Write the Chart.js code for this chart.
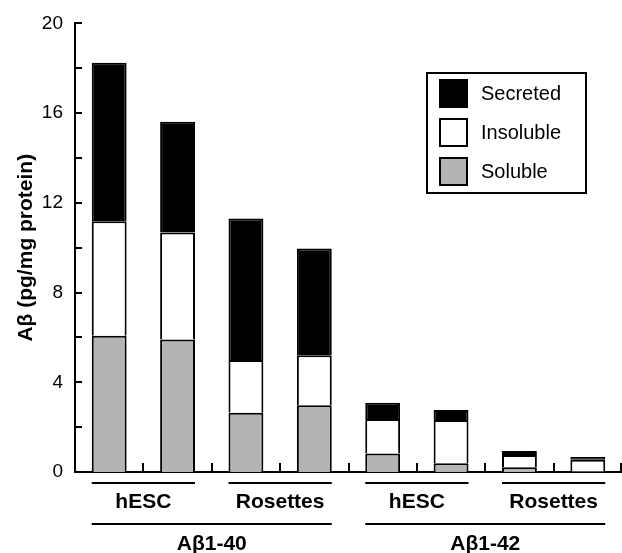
<!DOCTYPE html>
<html>
<head>
<meta charset="utf-8">
<script src="https://cdn.jsdelivr.net/npm/chart.js@4.4.1/dist/chart.umd.min.js"></script>
<style>
  html, body { margin: 0; padding: 0; background: #fff; }
  #wrap { width: 622px; height: 553px; position: relative; }
</style>
</head>
<body>
<div id="wrap"><canvas id="chart"></canvas></div>
<script>
  // data
  var categories = ['hESC a', 'hESC b', 'Rosettes a', 'Rosettes b', 'hESC a', 'hESC b', 'Rosettes a', 'Rosettes b'];
  var subGroups = ['hESC', 'Rosettes', 'hESC', 'Rosettes'];
  var groups = ['A\u03b21-40', 'A\u03b21-42'];
  var soluble = [6.07, 5.91, 2.64, 2.98, 0.83, 0.39, 0.21, 0.05];
  var insoluble = [5.11, 4.77, 2.35, 2.23, 1.53, 1.93, 0.55, 0.5];
  var secreted = [7.07, 4.94, 6.31, 4.75, 0.73, 0.44, 0.18, 0.12];
  var yTicks = [0, 4, 8, 12, 16, 20];

  var FONT = "'Liberation Sans', Arial, sans-serif";

  // 축 눈금, 그룹 라벨, 범례
  var decor = {
    id: 'decor',
    afterDraw: function (chart) {
      var ctx = chart.ctx;
      var area = chart.chartArea;
      var x = chart.scales.x;
      var y = chart.scales.y;
      ctx.save();
      ctx.strokeStyle = '#000';
      ctx.fillStyle = '#000';
      ctx.lineWidth = 2;

      // y ticks (inward)
      for (var v = 0; v <= 20; v += 2) {
        var py = Math.round(y.getPixelForValue(v));
        ctx.beginPath();
        ctx.moveTo(area.left, py);
        ctx.lineTo(area.left + 7, py);
        ctx.stroke();
      }
      // x ticks at category boundaries
      for (var i = 1; i <= categories.length; i++) {
        var px = Math.round(x.getPixelForValue(i - 0.5));
        if (i === categories.length) px = Math.min(px, chart.width - 1);
        ctx.beginPath();
        ctx.moveTo(px, area.bottom);
        ctx.lineTo(px, area.bottom - 9);
        ctx.stroke();
      }

      var bars = chart.getDatasetMeta(0).data;
      function leftOf(k) { return bars[k].x - bars[k].width / 2; }
      function rightOf(k) { return bars[k].x + bars[k].width / 2; }

      ctx.textAlign = 'center';
      ctx.textBaseline = 'middle';
      ctx.font = 'bold 21px ' + FONT;
      subGroups.forEach(function (name, g) {
        var l = leftOf(g * 2), r = rightOf(g * 2 + 1);
        ctx.beginPath();
        ctx.moveTo(l, 483);
        ctx.lineTo(r, 483);
        ctx.stroke();
        ctx.fillText(name, (l + r) / 2, 502);
      });
      groups.forEach(function (name, g) {
        var l = leftOf(g * 4), r = rightOf(g * 4 + 3);
        ctx.beginPath();
        ctx.moveTo(l, 524);
        ctx.lineTo(r, 524);
        ctx.stroke();
        ctx.fillText(name, (l + r) / 2, 544);
      });

      // legend box
      ctx.strokeRect(427, 73, 159, 120);
      ctx.font = '20px ' + FONT;
      ctx.textAlign = 'left';
      var order = chart.data.datasets.slice().reverse();
      order.forEach(function (ds, k) {
        var cy = 93 + k * 39;
        ctx.fillStyle = ds.backgroundColor;
        ctx.fillRect(440, cy - 13, 27, 27);
        ctx.strokeRect(440, cy - 13, 27, 27);
        ctx.fillStyle = '#000';
        ctx.fillText(ds.label, 481, cy + 1);
      });
      ctx.restore();
    }
  };

  var barCommon = {
    borderColor: '#000',
    borderWidth: 2,
    barPercentage: 0.51,
    categoryPercentage: 1
  };

  new Chart(document.getElementById('chart').getContext('2d'), {
    type: 'bar',
    data: {
      labels: categories,
      datasets: [
        Object.assign({ label: 'Soluble', data: soluble, backgroundColor: '#b4b4b4' }, barCommon),
        Object.assign({ label: 'Insoluble', data: insoluble, backgroundColor: '#ffffff' }, barCommon),
        Object.assign({ label: 'Secreted', data: secreted, backgroundColor: '#000000' }, barCommon)
      ]
    },
    options: {
      responsive: true,
      maintainAspectRatio: false,
      animation: false,
      layout: { padding: { top: 23, right: 0, left: 0, bottom: 0 } },
      plugins: {
        legend: { display: false },
        tooltip: { enabled: false }
      },
      scales: {
        x: {
          stacked: true,
          grid: { display: false, drawTicks: false },
          border: { display: true, color: '#000', width: 2 },
          ticks: { display: false },
          afterFit: function (s) { s.height = 81; }
        },
        y: {
          stacked: true,
          min: 0,
          max: 20,
          grid: { display: false, drawTicks: false },
          border: { display: true, color: '#000', width: 2 },
          ticks: {
            stepSize: 4,
            padding: 12,
            color: '#000',
            font: { family: FONT, size: 19 },
            callback: function (v) { return yTicks.indexOf(v) >= 0 ? v : ''; }
          },
          title: {
            display: true,
            text: 'A\u03b2 (pg/mg protein)',
            color: '#000',
            font: { family: FONT, size: 21, weight: 'bold' },
            padding: { top: 14, bottom: 0 }
          },
          afterFit: function (s) { s.width = 75; }
        }
      }
    },
    plugins: [decor]
  });
</script>
</body>
</html>
